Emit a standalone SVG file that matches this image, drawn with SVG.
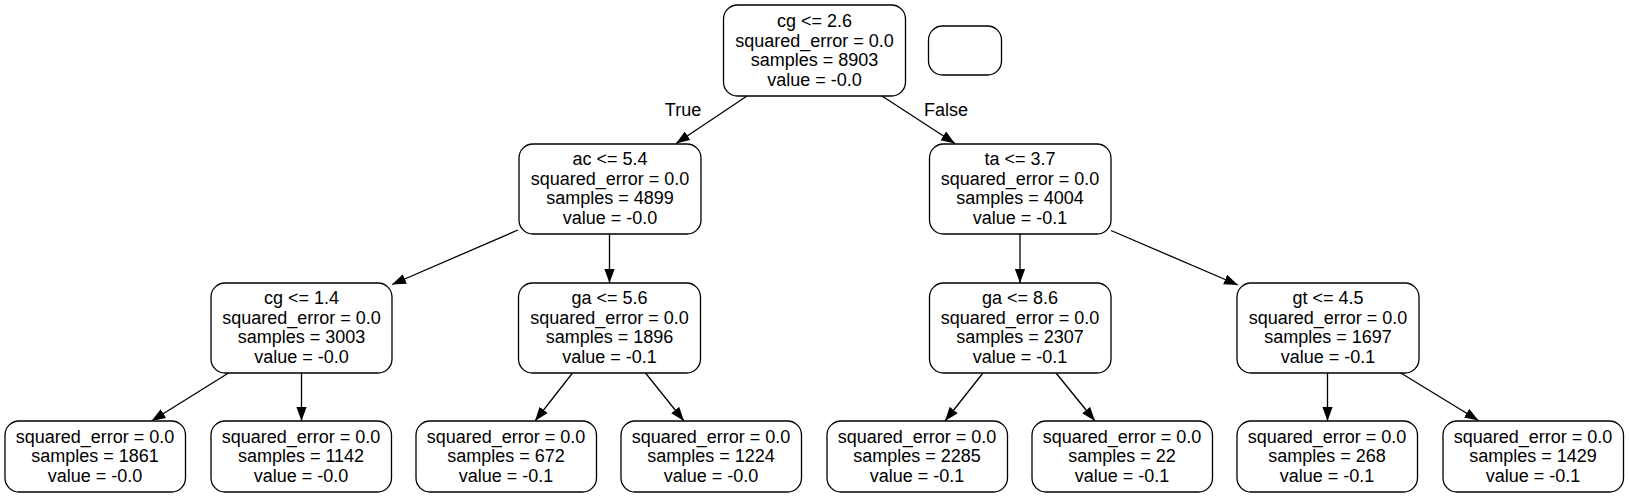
<svg xmlns="http://www.w3.org/2000/svg" width="1629" height="497" viewBox="0 0 1629 497">
<style>
.n rect{fill:#fff;stroke:#000;stroke-width:1.3}
text{font-family:"Liberation Sans",Arial,Helvetica,sans-serif;font-size:18px;fill:#000;text-anchor:middle}
.e line{stroke:#000;stroke-width:1.3}
</style>
<defs>
<marker id="ah" markerUnits="userSpaceOnUse" markerWidth="14" markerHeight="11" viewBox="0 0 13 9.5" refX="13" refY="4.75" orient="auto">
<path d="M0,0 L13,4.75 L0,9.5 z" fill="#000"/>
</marker>
</defs>
<rect width="1629" height="497" fill="#fff"/>
<g id="edges" class="e">
<line x1="747" y1="96" x2="676" y2="143.5" marker-end="url(#ah)"/>
<line x1="882" y1="96" x2="955" y2="143.5" marker-end="url(#ah)"/>
<line x1="518" y1="230" x2="392" y2="284.5" marker-end="url(#ah)"/>
<line x1="609.5" y1="234" x2="609.5" y2="283" marker-end="url(#ah)"/>
<line x1="1020" y1="234" x2="1020" y2="283" marker-end="url(#ah)"/>
<line x1="1111" y1="230.5" x2="1238" y2="285" marker-end="url(#ah)"/>
<line x1="228.5" y1="373" x2="151.5" y2="421" marker-end="url(#ah)"/>
<line x1="301.5" y1="373" x2="301.5" y2="421" marker-end="url(#ah)"/>
<line x1="572.5" y1="373" x2="535" y2="421" marker-end="url(#ah)"/>
<line x1="645.5" y1="373" x2="684" y2="421" marker-end="url(#ah)"/>
<line x1="983" y1="373" x2="945" y2="421" marker-end="url(#ah)"/>
<line x1="1056" y1="373" x2="1095" y2="421" marker-end="url(#ah)"/>
<line x1="1327.5" y1="373" x2="1327.5" y2="421" marker-end="url(#ah)"/>
<line x1="1400" y1="372.5" x2="1478.5" y2="420.5" marker-end="url(#ah)"/>
<text x="683" y="115.5">True</text>
<text x="946" y="115.5">False</text>
</g>
<g id="node0" class="n"><rect x="723.5" y="5" width="182" height="91" rx="14"/>
<text x="814.5" y="27">cg &lt;= 2.6</text><text x="814.5" y="46.6">squared_error = 0.0</text><text x="814.5" y="66.2">samples = 8903</text><text x="814.5" y="85.8">value = -0.0</text></g>
<g id="legend" class="n"><rect x="928.5" y="26" width="73" height="49" rx="14"/></g>
<g id="node1" class="n"><rect x="519" y="144" width="182" height="90" rx="14"/>
<text x="610" y="165">ac &lt;= 5.4</text><text x="610" y="184.6">squared_error = 0.0</text><text x="610" y="204.2">samples = 4899</text><text x="610" y="223.8">value = -0.0</text></g>
<g id="node8" class="n"><rect x="929.5" y="144" width="181.5" height="90" rx="14"/>
<text x="1020" y="165">ta &lt;= 3.7</text><text x="1020" y="184.6">squared_error = 0.0</text><text x="1020" y="204.2">samples = 4004</text><text x="1020" y="223.8">value = -0.1</text></g>
<g id="node2" class="n"><rect x="211" y="283" width="181" height="90" rx="14"/>
<text x="301.5" y="304">cg &lt;= 1.4</text><text x="301.5" y="323.6">squared_error = 0.0</text><text x="301.5" y="343.2">samples = 3003</text><text x="301.5" y="362.8">value = -0.0</text></g>
<g id="node5" class="n"><rect x="518.5" y="283" width="182" height="90" rx="14"/>
<text x="609.5" y="304">ga &lt;= 5.6</text><text x="609.5" y="323.6">squared_error = 0.0</text><text x="609.5" y="343.2">samples = 1896</text><text x="609.5" y="362.8">value = -0.1</text></g>
<g id="node9" class="n"><rect x="929.5" y="283" width="181.5" height="90" rx="14"/>
<text x="1020" y="304">ga &lt;= 8.6</text><text x="1020" y="323.6">squared_error = 0.0</text><text x="1020" y="343.2">samples = 2307</text><text x="1020" y="362.8">value = -0.1</text></g>
<g id="node12" class="n"><rect x="1237" y="283" width="182" height="90" rx="14"/>
<text x="1328" y="304">gt &lt;= 4.5</text><text x="1328" y="323.6">squared_error = 0.0</text><text x="1328" y="343.2">samples = 1697</text><text x="1328" y="362.8">value = -0.1</text></g>
<g id="node3" class="n"><rect x="5" y="421" width="180.5" height="71" rx="14"/>
<text x="95" y="442.7">squared_error = 0.0</text><text x="95" y="462.3">samples = 1861</text><text x="95" y="481.9">value = -0.0</text></g>
<g id="node4" class="n"><rect x="211" y="421" width="180.5" height="71" rx="14"/>
<text x="301" y="442.7">squared_error = 0.0</text><text x="301" y="462.3">samples = 1142</text><text x="301" y="481.9">value = -0.0</text></g>
<g id="node6" class="n"><rect x="416" y="421" width="180.5" height="71" rx="14"/>
<text x="506" y="442.7">squared_error = 0.0</text><text x="506" y="462.3">samples = 672</text><text x="506" y="481.9">value = -0.1</text></g>
<g id="node7" class="n"><rect x="621" y="421" width="180.5" height="71" rx="14"/>
<text x="711" y="442.7">squared_error = 0.0</text><text x="711" y="462.3">samples = 1224</text><text x="711" y="481.9">value = -0.0</text></g>
<g id="node10" class="n"><rect x="827" y="421" width="180.5" height="71" rx="14"/>
<text x="917" y="442.7">squared_error = 0.0</text><text x="917" y="462.3">samples = 2285</text><text x="917" y="481.9">value = -0.1</text></g>
<g id="node11" class="n"><rect x="1032" y="421" width="180.5" height="71" rx="14"/>
<text x="1122" y="442.7">squared_error = 0.0</text><text x="1122" y="462.3">samples = 22</text><text x="1122" y="481.9">value = -0.1</text></g>
<g id="node13" class="n"><rect x="1237" y="421" width="180.5" height="71" rx="14"/>
<text x="1327" y="442.7">squared_error = 0.0</text><text x="1327" y="462.3">samples = 268</text><text x="1327" y="481.9">value = -0.1</text></g>
<g id="node14" class="n"><rect x="1443" y="421" width="180.5" height="71" rx="14"/>
<text x="1533" y="442.7">squared_error = 0.0</text><text x="1533" y="462.3">samples = 1429</text><text x="1533" y="481.9">value = -0.1</text></g>
</svg>
